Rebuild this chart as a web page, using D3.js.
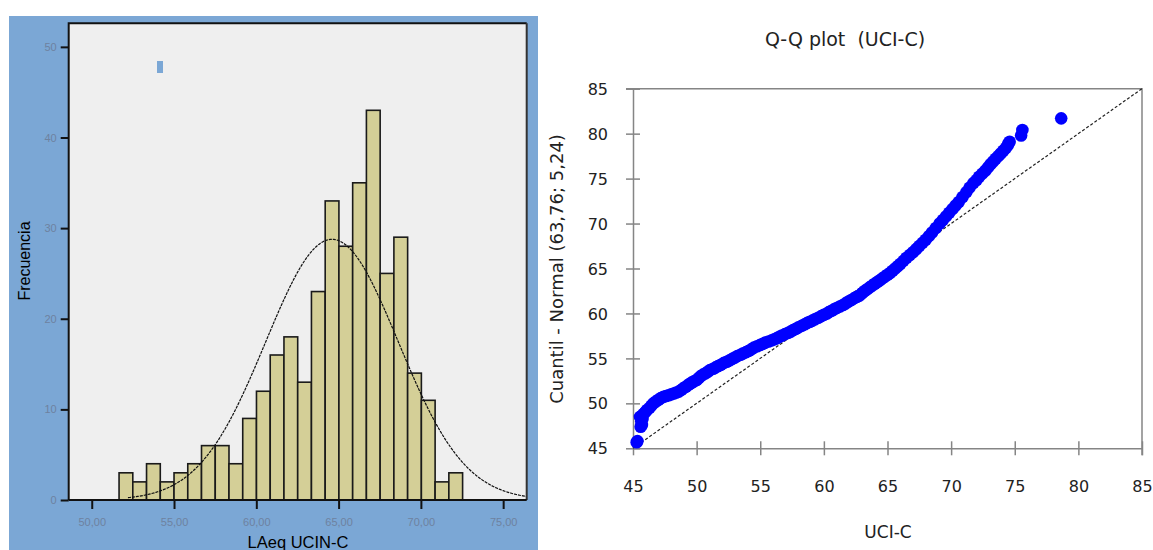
<!DOCTYPE html>
<html>
<head>
<meta charset="utf-8">
<script src="https://cdn.jsdelivr.net/npm/d3@7"></script>
<style>
  body { margin: 0; background: #fff; }
  svg { display: block; }
</style>
</head>
<body>
<svg id="fig" width="1153" height="550"></svg>
<script>
// histogram (LAeq UCIN-C)
let counts = [3, 2, 4, 2, 3, 4, 6, 6, 4, 9, 12, 16, 18, 13, 23, 33, 28, 35, 43, 25, 29, 14, 11, 2, 3];
let binStart = 51.66;
let binWidth = 0.835;
let fitMean = 64.6;
let fitSd = 4.03;
let histXTicks = [50, 55, 60, 65, 70, 75];
let histYTicks = [0, 10, 20, 30, 40, 50];

let qqPoints = [
  [45.29, 45.67], [45.35, 45.8], [45.6, 47.4], [45.7, 47.6], [45.65, 48.0], [45.55, 48.5], [45.75, 48.3],
  [45.8, 48.8], [45.95, 49.0], [46.1, 49.26], [46.3, 49.5], [46.45, 49.75], [46.6, 50.0], [46.8, 50.2],
  [47.0, 50.4], [47.2, 50.6], [47.4, 50.74], [47.6, 50.82], [47.8, 50.9], [48.0, 51.0], [48.2, 51.1],
  [48.4, 51.2], [48.6, 51.3], [48.8, 51.5], [48.95, 51.67], [49.15, 51.85], [49.3, 52.0], [49.45, 52.15],
  [49.6, 52.3], [49.8, 52.45], [50.0, 52.6], [50.15, 52.8], [50.3, 53.0], [50.5, 53.2], [50.7, 53.35],
  [50.9, 53.55], [51.05, 53.7], [51.3, 53.85], [51.5, 54.0], [51.7, 54.15], [51.9, 54.3], [52.15, 54.5],
  [52.37, 54.63], [52.6, 54.8], [52.8, 54.95], [53.0, 55.1], [53.2, 55.25], [53.45, 55.4], [53.67, 55.57],
  [53.9, 55.7], [54.1, 55.85], [54.3, 56.0], [54.5, 56.2], [54.75, 56.35], [55.0, 56.5], [55.2, 56.62],
  [55.4, 56.75], [55.65, 56.88], [55.9, 57.0], [56.1, 57.12], [56.3, 57.24], [56.5, 57.4], [56.7, 57.55],
  [56.95, 57.7], [57.2, 57.85], [57.4, 58.0], [57.6, 58.16], [57.8, 58.3], [58.0, 58.45], [58.25, 58.62],
  [58.5, 58.8], [58.7, 58.95], [58.9, 59.08], [59.1, 59.2], [59.3, 59.35], [59.55, 59.52], [59.8, 59.7],
  [60.0, 59.85], [60.23, 60.0], [60.4, 60.15], [60.6, 60.3], [60.8, 60.45], [61.0, 60.6], [61.25, 60.77],
  [61.5, 60.94], [61.7, 61.1], [61.9, 61.3], [62.15, 61.5], [62.4, 61.7], [62.6, 61.85], [62.8, 62.0],
  [63.0, 62.25], [63.2, 62.5], [63.4, 62.7], [63.6, 62.9], [63.8, 63.1], [64.0, 63.3], [64.2, 63.5],
  [64.4, 63.7], [64.6, 63.9], [64.8, 64.1], [65.0, 64.3], [65.2, 64.5], [65.4, 64.75], [65.6, 65.0],
  [65.8, 65.25], [66.0, 65.5], [66.25, 65.85], [66.5, 66.2], [66.75, 66.5], [67.0, 66.8], [67.25, 67.15],
  [67.5, 67.5], [67.75, 67.85], [68.0, 68.2], [68.25, 68.6], [68.5, 69.0], [68.8, 69.5], [69.1, 70.0],
  [69.35, 70.4], [69.6, 70.8], [69.85, 71.2], [70.1, 71.6], [70.35, 72.0], [70.6, 72.4], [70.9, 72.95],
  [71.2, 73.5], [71.45, 74.0], [71.75, 74.5], [72.0, 74.85], [72.2, 75.2], [72.45, 75.55], [72.7, 75.9],
  [72.9, 76.25], [73.1, 76.6], [73.3, 76.9], [73.5, 77.2], [73.7, 77.5], [73.9, 77.8], [74.1, 78.1],
  [74.3, 78.4], [74.45, 78.7], [74.5, 78.9], [74.6, 79.1],
  [75.5, 79.8], [75.6, 80.4], [78.65, 81.7]
];
let qqTicks = [45, 50, 55, 60, 65, 70, 75, 80, 85];

let svg = d3.select("#fig");

// ---------- left panel ----------
let panel = svg.append("g");
panel.append("rect")
  .attr("x", 9).attr("y", 16)
  .attr("width", 529).attr("height", 534)
  .attr("fill", "#7ba7d5");

let hx = d3.scaleLinear().domain([48.6, 76.43]).range([68.7, 526.7]);
let hy = d3.scaleLinear().domain([0, 52.6]).range([500, 23.3]);

panel.append("rect")
  .attr("x", hx.range()[0]).attr("y", hy.range()[1])
  .attr("width", hx.range()[1] - hx.range()[0])
  .attr("height", hy.range()[0] - hy.range()[1])
  .attr("fill", "#efefef");

// little legend swatch
panel.append("rect")
  .attr("x", 157).attr("y", 61)
  .attr("width", 6).attr("height", 12)
  .attr("fill", "#7ba7d5");

let bins = counts.map((c, i) => ({ x0: binStart + i * binWidth, x1: binStart + (i + 1) * binWidth, n: c }));

panel.selectAll("rect.bar")
  .data(bins)
  .enter()
  .append("rect")
  .attr("class", "bar")
  .attr("x", d => hx(d.x0))
  .attr("y", d => hy(d.n))
  .attr("width", d => hx(d.x1) - hx(d.x0))
  .attr("height", d => hy(0) - hy(d.n))
  .attr("fill", "#d4cf97")
  .attr("stroke", "#1a1a1a")
  .attr("stroke-width", 1.6);

let total = d3.sum(counts);
let peak = total * binWidth / (fitSd * Math.sqrt(2 * Math.PI));
let curveX = d3.range(52.2, 76.43, 0.1).concat([76.43]);
let curve = d3.line()
  .x(v => hx(v))
  .y(v => hy(peak * Math.exp(-0.5 * ((v - fitMean) / fitSd) ** 2)));

panel.append("path")
  .attr("d", curve(curveX))
  .attr("fill", "none")
  .attr("stroke", "#111")
  .attr("stroke-width", 1.2)
  .attr("stroke-dasharray", "3,1");

// frame
panel.append("path")
  .attr("d", `M${hx.range()[0]},${hy.range()[0]}V${hy.range()[1]}H${hx.range()[1]}`)
  .attr("fill", "none").attr("stroke", "#111").attr("stroke-width", 2);
panel.append("line")
  .attr("x1", hx.range()[1]).attr("x2", hx.range()[1])
  .attr("y1", hy.range()[1]).attr("y2", hy.range()[0])
  .attr("stroke", "#333").attr("stroke-width", 2);
panel.append("line")
  .attr("x1", hx.range()[0]).attr("x2", hx.range()[1])
  .attr("y1", hy(0)).attr("y2", hy(0))
  .attr("stroke", "#111").attr("stroke-width", 2);

let hxAxis = d3.axisBottom(hx).tickValues(histXTicks).tickSize(9).tickSizeOuter(0)
  .tickFormat(d => d3.format(".2f")(d).replace(".", ","));
let gx = panel.append("g").attr("transform", `translate(0,${hy(0)})`).call(hxAxis);
gx.select(".domain").remove();
gx.selectAll(".tick line").attr("stroke", "#111").attr("stroke-width", 2);
gx.selectAll(".tick text")
  .attr("dy", "1.25em")
  .attr("fill", "#6e82a0")
  .style("font-family", "Liberation Sans")
  .style("font-size", "11px");

let hyAxis = d3.axisLeft(hy).tickValues(histYTicks).tickSize(8).tickSizeOuter(0);
let gy = panel.append("g").attr("transform", `translate(${hx.range()[0]},0)`).call(hyAxis);
gy.select(".domain").remove();
gy.selectAll(".tick line").attr("stroke", "#111").attr("stroke-width", 2);
gy.selectAll(".tick text")
  .attr("x", -12)
  .attr("fill", "#6e82a0")
  .style("font-family", "Liberation Sans")
  .style("font-size", "11px");

panel.append("text")
  .text("Frecuencia")
  .attr("transform", "translate(30,261) rotate(-90)")
  .attr("text-anchor", "middle")
  .attr("fill", "#000")
  .style("font-family", "Liberation Sans")
  .style("font-size", "16px");

panel.append("text")
  .text("LAeq UCIN-C")
  .attr("x", 298).attr("y", 548)
  .attr("text-anchor", "middle")
  .attr("fill", "#000")
  .style("font-family", "Liberation Sans")
  .style("font-size", "16.5px");

// ---------- right panel: Q-Q plot ----------
let qq = svg.append("g");
let qx = d3.scaleLinear().domain([45, 85]).range([633, 1142]);
let qy = d3.scaleLinear().domain([45, 85]).range([448.3, 88.7]);
let axisGrey = "#858585";

qq.append("text")
  .text("Q-Q plot  (UCI-C)")
  .attr("x", 845).attr("y", 46)
  .attr("text-anchor", "middle")
  .attr("fill", "#222")
  .style("white-space", "pre")
  .style("font-family", "DejaVu Sans")
  .style("font-size", "19px");

// frame top / right
qq.append("path")
  .attr("d", `M${qx(45) - 7},${qy(85)}H${qx(85)}V${qy(45) + 7}`)
  .attr("fill", "none").attr("stroke", axisGrey).attr("stroke-width", 1.5);

let qxAxis = d3.axisBottom(qx).tickValues(qqTicks).tickSize(0);
let gqx = qq.append("g").attr("transform", `translate(0,${qy(45)})`).call(qxAxis);
gqx.select(".domain").attr("stroke", axisGrey).attr("stroke-width", 1.5);
gqx.selectAll(".tick line").attr("y1", -7).attr("y2", 7).attr("stroke", axisGrey).attr("stroke-width", 1.5);
gqx.selectAll(".tick text")
  .attr("y", 44).attr("dy", 0)
  .attr("fill", "#222")
  .style("font-family", "DejaVu Sans")
  .style("font-size", "16px");

let qyAxis = d3.axisLeft(qy).tickValues(qqTicks).tickSize(0);
let gqy = qq.append("g").attr("transform", `translate(${qx(45)},0)`).call(qyAxis);
gqy.select(".domain").attr("stroke", axisGrey).attr("stroke-width", 1.5);
gqy.selectAll(".tick line").attr("x1", -7).attr("x2", 7).attr("stroke", axisGrey).attr("stroke-width", 1.5);
gqy.selectAll(".tick text")
  .attr("x", -25).attr("dy", "0.35em")
  .attr("fill", "#222")
  .style("font-family", "DejaVu Sans")
  .style("font-size", "16px");

// reference line
qq.append("line")
  .attr("x1", qx(45)).attr("y1", qy(45))
  .attr("x2", qx(85)).attr("y2", qy(85))
  .attr("stroke", "#222").attr("stroke-width", 1.2)
  .attr("stroke-dasharray", "3,2");

qq.selectAll("circle.pt")
  .data(qqPoints)
  .enter()
  .append("circle")
  .attr("class", "pt")
  .attr("cx", d => qx(d[0]))
  .attr("cy", d => qy(d[1]))
  .attr("r", 6.3)
  .attr("fill", "#0000ff");

qq.append("text")
  .text("UCI-C")
  .attr("x", 888).attr("y", 538)
  .attr("text-anchor", "middle")
  .attr("fill", "#222")
  .style("font-family", "DejaVu Sans")
  .style("font-size", "17px");

qq.append("text")
  .text("Cuantil - Normal (63,76; 5,24)")
  .attr("transform", "translate(563,269) rotate(-90)")
  .attr("text-anchor", "middle")
  .attr("fill", "#222")
  .style("font-family", "DejaVu Sans")
  .style("font-size", "18px");
</script>
</body>
</html>
